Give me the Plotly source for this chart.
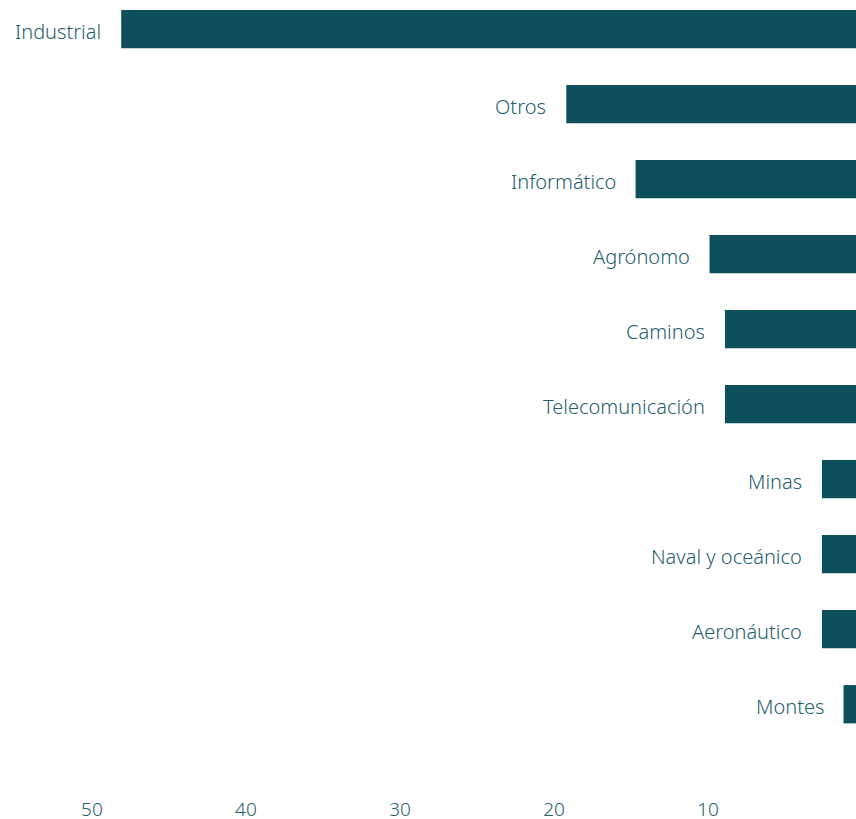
import plotly.graph_objects as go

# categories, top to bottom
categorias = [
    "Industrial",
    "Otros",
    "Informático",
    "Agrónomo",
    "Caminos",
    "Telecomunicación",
    "Minas",
    "Naval y oceánico",
    "Aeronáutico",
    "Montes",
]
valores = [48.1, 19.2, 14.7, 9.9, 8.9, 8.9, 2.6, 2.6, 2.6, 1.2]

tick_vals = [50, 40, 30, 20, 10, 0]
tick_text = ["50", "40", "30", "20", "10", "0"]

BAR = "#0d4f5b"
TXT = "#24606b"
FONT = "Noto Sans"

fig = go.Figure(
    go.Bar(
        x=valores,
        y=categorias,
        orientation="h",
        marker=dict(color=BAR, line=dict(width=0)),
        width=0.51,
        hoverinfo="x+y",
    )
)

# category labels sit just left of each bar end
for cat, val in zip(categorias, valores):
    fig.add_annotation(
        x=val,
        y=cat,
        xref="x",
        yref="y",
        text=cat,
        showarrow=False,
        xanchor="right",
        yanchor="middle",
        xshift=-18,
        yshift=-2,
        font=dict(family=FONT, size=20, color=TXT, weight=300),
    )

# chart is a bit wider than the window, the zero tick gets cut at the edge
fig.update_layout(
    width=870,
    height=819,
    margin=dict(l=0, r=8, t=0, b=24),
    plot_bgcolor="white",
    paper_bgcolor="white",
    showlegend=False,
    font=dict(family=FONT, size=19, color=TXT, weight=300),
    xaxis=dict(
        range=[55.97, 0],
        tickvals=tick_vals,
        ticktext=tick_text,
        showgrid=False,
        zeroline=False,
        showline=False,
        ticks="",
        automargin=False,
        ticklabelstandoff=1,
        tickfont=dict(family=FONT, size=19, color=TXT, weight=300),
    ),
    yaxis=dict(
        categoryorder="array",
        categoryarray=categorias,
        range=[10.21, -0.387],
        showticklabels=False,
        showgrid=False,
        zeroline=False,
        showline=False,
        ticks="",
    ),
)

fig.write_html(
    "out.html",
    config={"displayModeBar": False},
    post_script="document.body.style.margin='0';document.body.style.overflow='hidden';",
)
